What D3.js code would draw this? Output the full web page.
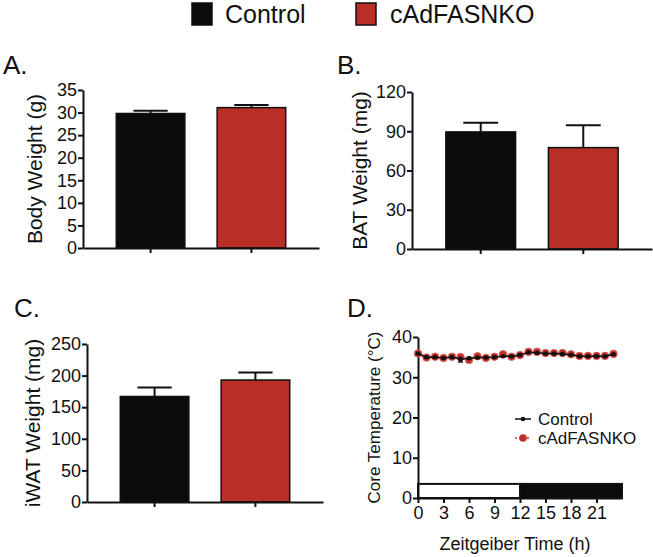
<!DOCTYPE html>
<html>
<head>
<meta charset="utf-8">
<script src="https://cdn.jsdelivr.net/npm/d3@7"></script>
<style>
  html, body { margin: 0; padding: 0; background: #fff; }
  svg { display: block; font-family: "Liberation Sans", Arial, Helvetica, sans-serif; }
</style>
</head>
<body>
<svg id="chart" width="653" height="557"></svg>
<script>
// ---------------- DATA ----------------
const groups = ["Control", "cAdFASNKO"];
const groupColors = ["#0b0b0b", "#b92e27"];

const bodyWeight = [29.8, 31.1];
const bodyWeightErr = [0.6, 0.6];
const bodyWeightTicks = [0, 5, 10, 15, 20, 25, 30, 35];

const batWeight = [89.5, 77.5];
const batWeightErr = [7, 17];
const batWeightTicks = [0, 30, 60, 90, 120];

const iwatWeight = [167, 193];
const iwatWeightErr = [14, 12];
const iwatWeightTicks = [0, 50, 100, 150, 200, 250];

const hours = [0,1,2,3,4,5,6,7,8,9,10,11,12,13,14,15,16,17,18,19,20,21,22,23];
const controlTemp = [35.9,35.0,35.0,34.8,35.0,34.5,34.7,34.9,34.9,35.0,35.2,35.2,35.5,36.2,36.1,35.9,35.9,35.8,35.6,35.2,35.2,35.2,35.2,35.7];
const controlTempErr = [0.2,0.2,0.2,0.2,0.2,0.7,0.2,0.2,0.2,0.2,0.2,0.2,0.2,0.2,0.2,0.2,0.2,0.2,0.2,0.2,0.2,0.2,0.2,0.2];
const koTemp = [35.9,34.9,35.1,34.8,35.1,35.0,34.3,35.2,34.8,35.1,35.7,35.1,35.5,36.3,36.3,36.0,36.0,36.0,35.7,35.3,35.3,35.3,35.3,35.8];
const tempYTicks = [0, 10, 20, 30, 40];
const timeXTicks = [0, 3, 6, 9, 12, 15, 18, 21];
const lightDark = [
  { start: 0, end: 12, fill: "#ffffff" },
  { start: 12, end: 24, fill: "#0b0b0b" }
];
const lightDarkHeight = 3.5;

// ---------------- DRAW ----------------
const svg = d3.select("#chart");
const TXT = "#111";

// Top legend
const topLegend = [
  { name: groups[0], color: groupColors[0], sx: 192, tx: 225 },
  { name: groups[1], color: groupColors[1], sx: 356, tx: 390 }
];
topLegend.forEach(d => {
  svg.append("rect").attr("x", d.sx).attr("y", 3).attr("width", 20).attr("height", 22)
    .attr("fill", d.color).attr("stroke", "#111").attr("stroke-width", 1.5);
  svg.append("text").attr("x", d.tx).attr("y", 23).attr("font-size", 25)
    .attr("fill", TXT).text(d.name);
});

function styleAxis(g, fontSize) {
  g.selectAll(".domain").attr("stroke", "#111").attr("stroke-width", 2);
  g.selectAll(".tick line").attr("stroke", "#111").attr("stroke-width", 2);
  g.selectAll(".tick text").attr("font-size", fontSize)
    .attr("font-family", "Liberation Sans, Arial, sans-serif").attr("fill", TXT);
  g.attr("font-family", null).attr("font-size", null);
}

function barPanel(cfg) {
  const y = d3.scaleLinear().domain([cfg.ticks[0], cfg.ticks[cfg.ticks.length - 1]])
    .range([cfg.y0, cfg.y1]);
  const x = d3.scaleBand().domain(groups).range([cfg.x0, cfg.x1])
    .paddingInner(0.32).paddingOuter(0.33);
  const g = svg.append("g");

  g.selectAll("rect.bar").data(groups).join("rect")
    .attr("class", "bar")
    .attr("x", d => x(d))
    .attr("width", x.bandwidth())
    .attr("y", (d, i) => y(cfg.values[i]))
    .attr("height", (d, i) => y(0) - y(cfg.values[i]))
    .attr("fill", (d, i) => groupColors[i])
    .attr("stroke", "#111").attr("stroke-width", 1.5);

  groups.forEach((d, i) => {
    const cx = x(d) + x.bandwidth() / 2;
    const top = y(cfg.values[i] + cfg.errors[i]);
    g.append("line").attr("x1", cx).attr("x2", cx)
      .attr("y1", y(cfg.values[i])).attr("y2", top)
      .attr("stroke", "#111").attr("stroke-width", 2);
    g.append("line").attr("x1", cx - x.bandwidth() / 4).attr("x2", cx + x.bandwidth() / 4)
      .attr("y1", top).attr("y2", top)
      .attr("stroke", "#111").attr("stroke-width", 2);
  });

  const ya = g.append("g").attr("transform", `translate(${cfg.x0},0)`)
    .call(d3.axisLeft(y).tickValues(cfg.ticks).tickSize(5).tickSizeOuter(0).tickPadding(1));
  styleAxis(ya, 18);

  const xa = g.append("g").attr("transform", `translate(0,${cfg.y0})`)
    .call(d3.axisBottom(x).tickSize(5).tickSizeOuter(0).tickFormat(""));
  styleAxis(xa, 18);

  g.append("text")
    .attr("transform", `translate(${cfg.labelX},${(cfg.y0 + cfg.y1) / 2}) rotate(-90)`)
    .attr("text-anchor", "middle").attr("font-size", 21).attr("fill", TXT)
    .text(cfg.yLabel);

  svg.append("text").attr("x", cfg.letterX).attr("y", cfg.letterY)
    .attr("font-size", 26).attr("fill", TXT).text(cfg.letter);
}

barPanel({ values: bodyWeight, errors: bodyWeightErr, ticks: bodyWeightTicks,
  x0: 83, x1: 319, y0: 248, y1: 90, labelX: 42, yLabel: "Body Weight (g)",
  letter: "A.", letterX: 3, letterY: 74 });

barPanel({ values: batWeight, errors: batWeightErr, ticks: batWeightTicks,
  x0: 412, x1: 652, y0: 249, y1: 92, labelX: 367, yLabel: "BAT Weight (mg)",
  letter: "B.", letterX: 337, letterY: 74 });

barPanel({ values: iwatWeight, errors: iwatWeightErr, ticks: iwatWeightTicks,
  x0: 87, x1: 323, y0: 502, y1: 344, labelX: 40, yLabel: "iWAT Weight (mg)",
  letter: "C.", letterX: 14, letterY: 317 });

// ---------------- Panel D ----------------
(function () {
  const x = d3.scaleLinear().domain([0, 24]).range([418, 622]);
  const y = d3.scaleLinear().domain([0, 40]).range([498, 337]);
  const g = svg.append("g");

  g.selectAll("rect.ld").data(lightDark).join("rect")
    .attr("class", "ld")
    .attr("x", d => x(d.start)).attr("width", d => x(d.end) - x(d.start))
    .attr("y", y(lightDarkHeight)).attr("height", y(0) - y(lightDarkHeight))
    .attr("fill", d => d.fill).attr("stroke", "#111").attr("stroke-width", 2);

  const ya = g.append("g").attr("transform", `translate(${x(0)},0)`)
    .call(d3.axisLeft(y).tickValues(tempYTicks).tickSize(5).tickSizeOuter(0).tickPadding(1));
  styleAxis(ya, 18);
  const xa = g.append("g").attr("transform", `translate(0,${y(0)})`)
    .call(d3.axisBottom(x).tickValues(timeXTicks).tickSize(5).tickSizeOuter(0).tickPadding(3));
  styleAxis(xa, 18);

  const line = d3.line().x((d, i) => x(hours[i])).y(d => y(d));
  g.append("path").datum(koTemp).attr("d", line)
    .attr("fill", "none").attr("stroke", "#c0302a").attr("stroke-width", 1.5)
    .attr("stroke-dasharray", "2,2");
  g.selectAll("circle.ko").data(koTemp).join("circle")
    .attr("class", "ko")
    .attr("cx", (d, i) => x(hours[i])).attr("cy", d => y(d)).attr("r", 3.8)
    .attr("fill", "#c4302a").attr("stroke", "#d9605a").attr("stroke-width", 0.8);

  controlTemp.forEach((v, i) => {
    const cx = x(hours[i]);
    g.append("line").attr("x1", cx).attr("x2", cx)
      .attr("y1", y(v - controlTempErr[i])).attr("y2", y(v + controlTempErr[i]))
      .attr("stroke", "#111").attr("stroke-width", 1.5);
    g.append("line").attr("x1", cx - 2.5).attr("x2", cx + 2.5)
      .attr("y1", y(v - controlTempErr[i])).attr("y2", y(v - controlTempErr[i]))
      .attr("stroke", "#111").attr("stroke-width", 1.5);
  });
  g.append("path").datum(controlTemp).attr("d", line)
    .attr("fill", "none").attr("stroke", "#111").attr("stroke-width", 1.5);
  g.selectAll("circle.ctl").data(controlTemp).join("circle")
    .attr("class", "ctl")
    .attr("cx", (d, i) => x(hours[i])).attr("cy", d => y(d)).attr("r", 2.3)
    .attr("fill", "#111");

  const leg = [
    { name: groups[0], y: 419, color: "#111", dash: null, r: 2.3 },
    { name: groups[1], y: 438, color: "#c0302a", dash: "2,2", r: 3.8 }
  ];
  leg.forEach(d => {
    g.append("line").attr("x1", 515).attr("x2", 531).attr("y1", d.y).attr("y2", d.y)
      .attr("stroke", d.color).attr("stroke-width", 1.5).attr("stroke-dasharray", d.dash);
    g.append("circle").attr("cx", 523).attr("cy", d.y).attr("r", d.r).attr("fill", d.color);
    g.append("text").attr("x", 538).attr("y", d.y + 6).attr("font-size", 17)
      .attr("fill", TXT).text(d.name);
  });

  g.append("text")
    .attr("transform", `translate(380,${(y(0) + y(40)) / 2}) rotate(-90)`)
    .attr("text-anchor", "middle").attr("font-size", 17).attr("fill", TXT)
    .text("Core Temperature (°C)");
  g.append("text").attr("x", 515).attr("y", 550).attr("text-anchor", "middle")
    .attr("font-size", 18).attr("fill", TXT).text("Zeitgeiber Time (h)");

  svg.append("text").attr("x", 347).attr("y", 317)
    .attr("font-size", 26).attr("fill", TXT).text("D.");
})();
</script>
</body>
</html>
